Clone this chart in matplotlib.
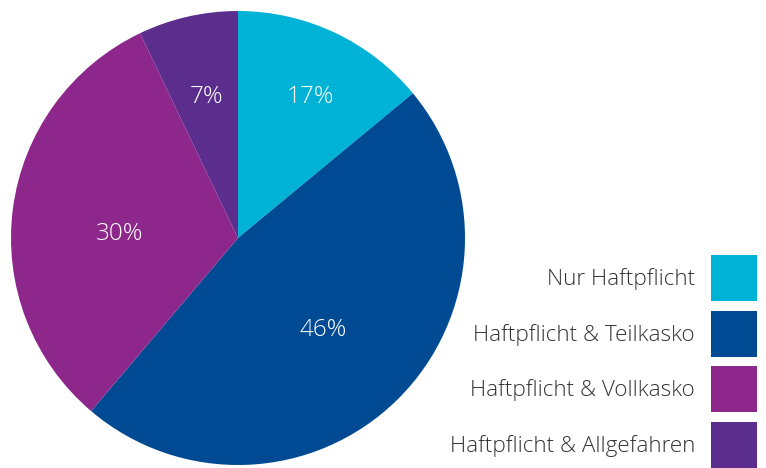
import matplotlib
matplotlib.use("Agg")
import matplotlib.pyplot as plt
from matplotlib.patches import Rectangle

categories = ["Nur Haftpflicht", "Haftpflicht & Teilkasko",
              "Haftpflicht & Vollkasko", "Haftpflicht & Allgefahren"]
shares = [14.0, 47.2, 31.7, 7.1]          # slice sizes as drawn
pct_labels = ["17%", "46%", "30%", "7%"]   # printed labels
colors = ["#00B3D6", "#004A93", "#8E278C", "#5B2E8E"]

# label positions inside the pie (axes data units, radius 1)
label_pos = [(0.32, 0.62), (0.374, -0.406), (-0.52, 0.016), (-0.14, 0.62)]

plt.rcParams["font.family"] = ["Open Sans", "DejaVu Sans"]

W, H = 766, 468
fig = plt.figure(figsize=(W / 100, H / 100), dpi=100)

cx, cy, r = 238, 238, 227
ax = fig.add_axes([(cx - r) / W, (H - cy - r) / H, 2 * r / W, 2 * r / H])
ax.pie(shares, colors=colors, startangle=90, counterclock=False,
       radius=1.0, wedgeprops=dict(linewidth=0))
ax.set_xlim(-1, 1)
ax.set_ylim(-1, 1)
ax.set_aspect("auto")
ax.axis("off")
for (x, y), t in zip(label_pos, pct_labels):
    ax.text(x, y, t, ha="center", va="center", color="white",
            fontsize=17.5, fontweight="light")

# legend in pixel coordinates
lg = fig.add_axes([0, 0, 1, 1], facecolor="none")
lg.set_xlim(0, W)
lg.set_ylim(H, 0)
lg.axis("off")
row_y = [278, 334, 389, 445]
for yc, c, lab in zip(row_y, colors, categories):
    lg.add_patch(Rectangle((711, yc - 23), 46, 46, color=c, lw=0))
    lg.text(695, yc + 1, lab, ha="right", va="center", color="#333333",
            fontsize=16.2, fontweight="light")

fig.savefig("out.png", dpi=100)
